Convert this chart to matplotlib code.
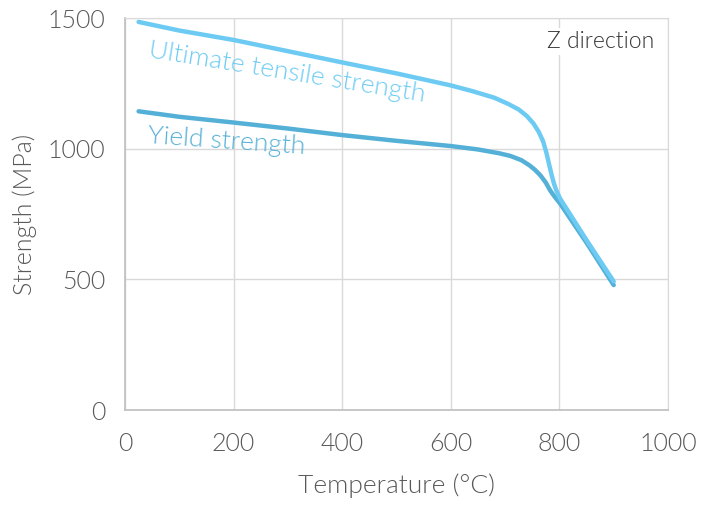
import matplotlib.pyplot as plt

# temperature (°C) and strength (MPa)
uts_temp = [25, 100, 200, 300, 400, 500, 600, 640, 680, 705, 725, 740, 752, 762, 770, 776, 781, 786, 790, 794, 801, 850, 900]
uts_mpa = [1485, 1452, 1416, 1373, 1330, 1288, 1242, 1220, 1195, 1172, 1150, 1125, 1097, 1064, 1028, 985, 940, 897, 866, 842, 810, 650, 492]

ys_temp = [25, 100, 200, 300, 400, 500, 600, 650, 690, 710, 730, 745, 755, 765, 775, 783, 792, 801, 850, 900]
ys_mpa = [1143, 1122, 1100, 1077, 1052, 1030, 1010, 997, 982, 972, 956, 936, 919, 898, 870, 840, 814, 791, 640, 478]

x_ticks = [0, 200, 400, 600, 800, 1000]
y_ticks = [0, 500, 1000, 1500]

uts_color = '#6dcbf3'
ys_color = '#55b0d7'
grey = '#595959'

plt.rcParams['font.family'] = ['Lato', 'DejaVu Sans']

fig = plt.figure(figsize=(7.02, 5.05), dpi=100)
ax = fig.add_axes([125 / 702, 95 / 505, 543 / 702, 392 / 505])

ax.plot(ys_temp, ys_mpa, color=ys_color, lw=3.2, solid_capstyle='round', zorder=3)
ax.plot(uts_temp, uts_mpa, color=uts_color, lw=3.2, solid_capstyle='round', zorder=4)

ax.set_xlim(0, 1000)
ax.set_ylim(0, 1500)
ax.set_xticks(x_ticks)
ax.set_yticks(y_ticks)
ax.grid(True, color='#d9d9d9', lw=1)
ax.set_axisbelow(True)
ax.tick_params(length=0, labelsize=18, colors=grey)
ax.tick_params(axis='x', pad=16)
ax.tick_params(axis='y', pad=14)
for lab in ax.get_xticklabels() + ax.get_yticklabels():
    lab.set_fontweight(300)
for s in ['top', 'right']:
    ax.spines[s].set_color('#d9d9d9')
for s in ['left', 'bottom']:
    ax.spines[s].set_color('#bfbfbf')
    ax.spines[s].set_linewidth(1.2)

ax.set_xlabel('Temperature (°C)', fontsize=19, color=grey, fontweight=300, labelpad=12)
ax.set_ylabel('Strength (MPa)', fontsize=18, color=grey, fontweight=300, labelpad=8)

ax.text(42, 1351, 'Ultimate tensile strength', color=uts_color, fontsize=19,
        fontweight=300, rotation=-9.2, rotation_mode='anchor')
ax.text(42, 1021, 'Yield strength', color=ys_color, fontsize=19,
        fontweight=300, rotation=-4, rotation_mode='anchor')
ax.text(975, 1385, 'Z direction', color='#333333', fontsize=16.5,
        fontweight=300, ha='right',
        bbox=dict(facecolor='white', edgecolor='none', pad=2))

fig.savefig('out.png', dpi=100)
